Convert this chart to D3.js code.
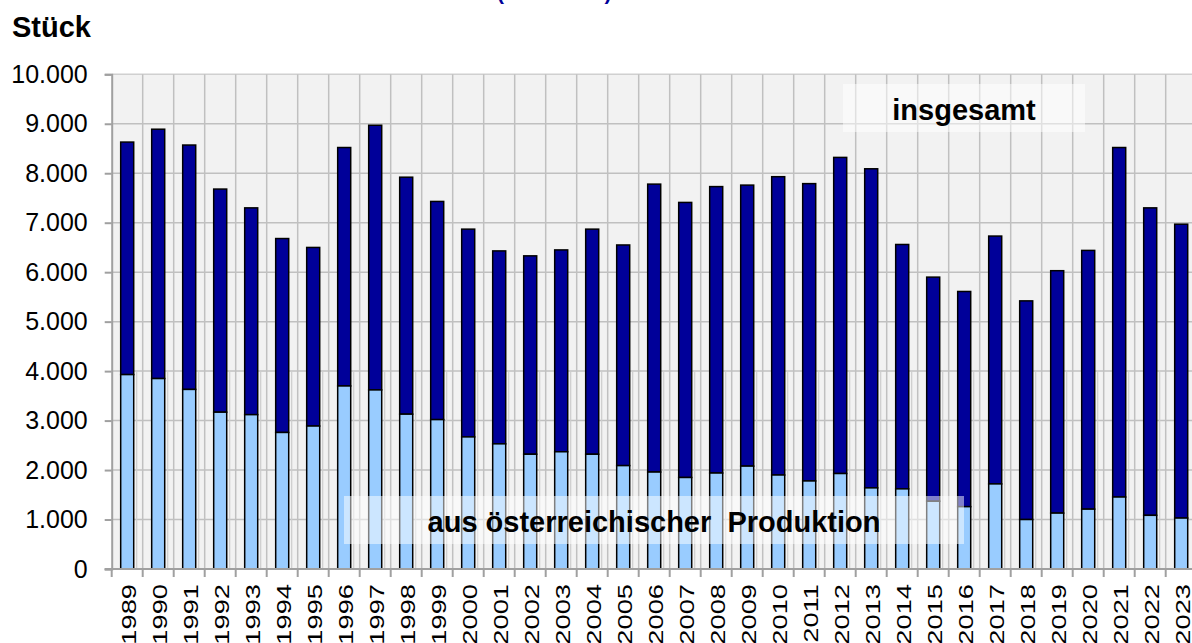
<!DOCTYPE html>
<html>
<head>
<meta charset="utf-8">
<script src="https://cdn.jsdelivr.net/npm/d3@7/dist/d3.min.js"></script>
<style>
  body { margin: 0; background: #fff; }
  text { font-family: "Liberation Sans", Arial, sans-serif; }
</style>
</head>
<body>
<svg id="chart"></svg>
<script>
// Values
var years = [1989, 1990, 1991, 1992, 1993, 1994, 1995, 1996, 1997, 1998,
             1999, 2000, 2001, 2002, 2003, 2004, 2005, 2006, 2007, 2008,
             2009, 2010, 2011, 2012, 2013, 2014, 2015, 2016, 2017, 2018,
             2019, 2020, 2021, 2022, 2023];

// total ("insgesamt")
var total = [8630, 8890, 8570, 7680, 7300, 6680, 6500, 8520, 8970, 7920,
             7430, 6870, 6430, 6330, 6450, 6870, 6550, 7780, 7410, 7730,
             7760, 7930, 7790, 8320, 8090, 6560, 5900, 5610, 6730, 5420,
             6030, 6440, 8520, 7300, 6970];

// domestic production ("aus österreichischer Produktion")
var domestic = [3930, 3850, 3630, 3170, 3120, 2760, 2890, 3700, 3620, 3130,
                3020, 2670, 2530, 2320, 2370, 2320, 2090, 1960, 1850, 1940,
                2080, 1900, 1780, 1930, 1640, 1620, 1370, 1260, 1720, 1000,
                1130, 1210, 1455, 1085, 1030];

var yTicks = [0, 1000, 2000, 3000, 4000, 5000, 6000, 7000, 8000, 9000, 10000];

var W = 1192, H = 643;
var plot = {left: 111.7, right: 1196.7, top: 74.3, bottom: 569};

var darkBlue = "#000099",
    lightBlue = "#99ccff",
    gridColor = "#c0c0c0",
    axisColor = "#a0a0a0";

var de = d3.formatLocale({decimal: ",", thousands: ".", grouping: [3], currency: ["", " €"]});
var fmt = de.format(",d");

var svg = d3.select("#chart")
    .attr("width", W)
    .attr("height", H);

// band scale for the bars, and a padding-free one for the category borders
var x = d3.scaleBand()
    .domain(years)
    .range([plot.left, plot.right])
    .paddingInner(0.58)
    .paddingOuter(0.29);

var xb = d3.scaleBand()
    .domain(years)
    .range([plot.left, plot.right]);

var y = d3.scaleLinear()
    .domain([0, 10000])
    .range([plot.bottom, plot.top]);

// plot background
svg.append("rect")
    .attr("x", plot.left)
    .attr("y", y(10000))
    .attr("width", plot.right - plot.left)
    .attr("height", y(0) - y(10000))
    .attr("fill", "#f2f2f2");

// horizontal gridlines
svg.append("g")
  .selectAll("line")
  .data(yTicks.slice(1))
  .enter().append("line")
    .attr("x1", plot.left)
    .attr("x2", plot.right)
    .attr("y1", function(d) { return y(d); })
    .attr("y2", function(d) { return y(d); })
    .attr("stroke", function(d) { return d == 10000 ? "#d0d0d0" : gridColor; })
    .attr("stroke-width", 1.5);

// vertical gridlines at category borders
svg.append("g")
  .selectAll("line")
  .data(years.slice(1))
  .enter().append("line")
    .attr("x1", function(d) { return xb(d); })
    .attr("x2", function(d) { return xb(d); })
    .attr("y1", y(10000))
    .attr("y2", y(0))
    .attr("stroke", gridColor)
    .attr("stroke-width", 1.5);

// the second, shorter set of gridlines in the lower part
svg.append("g")
  .selectAll("line")
  .data(years.slice(1))
  .enter().append("line")
    .attr("x1", function(d) { return xb(d) - 6; })
    .attr("x2", function(d) { return xb(d) - 6; })
    .attr("y1", y(4000))
    .attr("y2", y(0))
    .attr("stroke", "#cccccc")
    .attr("stroke-width", 1.2);

// stacked bars: domestic at the bottom, remainder of the total above
var rows = years.map(function(yr, i) {
    return {year: yr, total: total[i], domestic: domestic[i]};
});

var bars = svg.append("g");

bars.selectAll("rect.top")
  .data(rows)
  .enter().append("rect")
    .attr("class", "top")
    .attr("x", function(d) { return x(d.year); })
    .attr("width", x.bandwidth())
    .attr("y", function(d) { return y(d.total); })
    .attr("height", function(d) { return y(d.domestic) - y(d.total); })
    .attr("fill", darkBlue)
    .attr("stroke", "#000")
    .attr("stroke-width", 1.5);

bars.selectAll("rect.bottom")
  .data(rows)
  .enter().append("rect")
    .attr("class", "bottom")
    .attr("x", function(d) { return x(d.year); })
    .attr("width", x.bandwidth())
    .attr("y", function(d) { return y(d.domestic); })
    .attr("height", function(d) { return y(0) - y(d.domestic); })
    .attr("fill", lightBlue)
    .attr("stroke", "#000")
    .attr("stroke-width", 1.5);

// y axis
var yAxis = svg.append("g")
    .attr("transform", "translate(" + plot.left + ",0)")
    .call(d3.axisLeft(y).tickValues(yTicks).tickFormat(fmt).tickSize(7).tickPadding(17));
yAxis.select(".domain").attr("stroke", axisColor).attr("stroke-width", 2);
yAxis.selectAll(".tick line").attr("stroke", axisColor).attr("stroke-width", 2);
yAxis.selectAll(".tick text")
    .attr("fill", "#000")
    .attr("font-size", 25)
    .attr("font-family", "Liberation Sans, Arial, sans-serif");

// x axis: tick marks at the category borders, labels rotated
var xAxisG = svg.append("g");
xAxisG.append("line")
    .attr("x1", plot.left - 7)
    .attr("x2", plot.right)
    .attr("y1", y(0))
    .attr("y2", y(0))
    .attr("stroke", axisColor)
    .attr("stroke-width", 2);

xAxisG.selectAll("line.tk")
  .data(years)
  .enter().append("line")
    .attr("class", "tk")
    .attr("x1", function(d) { return xb(d); })
    .attr("x2", function(d) { return xb(d); })
    .attr("y1", y(0))
    .attr("y2", y(0) + 8)
    .attr("stroke", axisColor)
    .attr("stroke-width", 2);

// the labels in the picture are drawn a little stretched along their length
xAxisG.selectAll("text")
  .data(years)
  .enter().append("text")
    .attr("transform", function(d) {
        return "translate(" + (x(d) + x.bandwidth() / 2 + 8.5) + "," + (y(0) + 15) + ") rotate(-90) scale(1.3,1)";
    })
    .attr("text-anchor", "end")
    .attr("font-size", 21)
    .attr("fill", "#000")
    .text(function(d) { return d; });

// unit label
svg.append("text")
    .attr("x", 12)
    .attr("y", 37)
    .attr("font-size", 29)
    .attr("font-weight", "bold")
    .attr("fill", "#000")
    .text("Stück");

// title, nearly all of it is above the visible area
svg.append("text")
    .attr("x", 497)
    .attr("y", 0)
    .attr("font-size", 21)
    .attr("font-weight", "bold")
    .attr("fill", darkBlue)
    .text("(1989-2023)");

// series labels in translucent boxes
function seriesLabel(cx, top, bottom, boxLeft, boxRight, label) {
    svg.append("rect")
        .attr("x", boxLeft)
        .attr("y", top)
        .attr("width", boxRight - boxLeft)
        .attr("height", bottom - top)
        .attr("fill", "#fff")
        .attr("fill-opacity", 0.5);
    svg.append("text")
        .attr("x", cx)
        .attr("y", bottom - 12)
        .attr("text-anchor", "middle")
        .attr("font-size", 29)
        .attr("font-weight", "bold")
        .attr("fill", "#000")
        .style("white-space", "pre")
        .text(label);
}

seriesLabel(964, 84, 132, 843, 1085, "insgesamt");
seriesLabel(654, 496, 544, 344, 964, "aus österreichischer  Produktion");
</script>
</body>
</html>
